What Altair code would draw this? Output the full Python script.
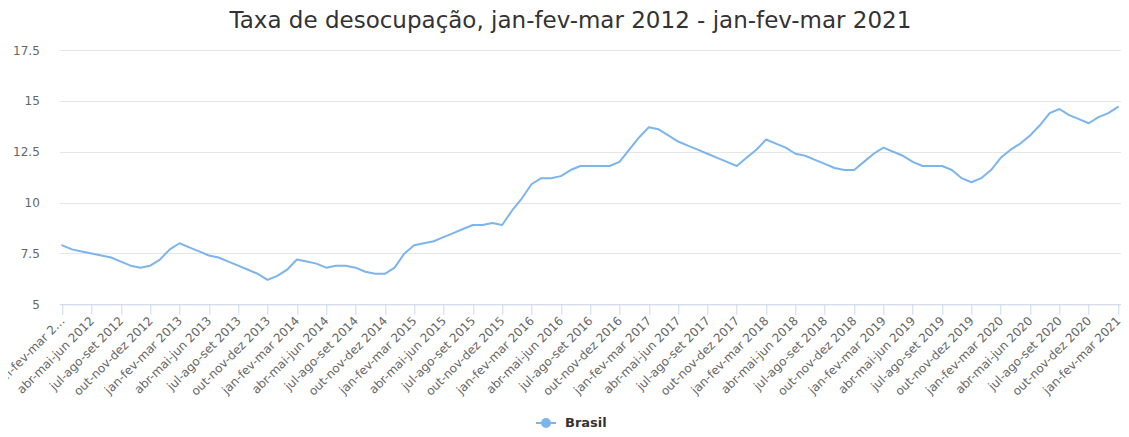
import altair as alt
import pandas as pd

trimestres = ["jan-fev-mar", "fev-mar-abr", "mar-abr-mai", "abr-mai-jun",
              "mai-jun-jul", "jun-jul-ago", "jul-ago-set", "ago-set-out",
              "set-out-nov", "out-nov-dez", "nov-dez-jan", "dez-jan-fev"]
anos = list(range(2012, 2022))

taxa = [7.9, 7.7, 7.6, 7.5, 7.4, 7.3, 7.1, 6.9, 6.8, 6.9, 7.2, 7.7,
        8.0, 7.8, 7.6, 7.4, 7.3, 7.1, 6.9, 6.7, 6.5, 6.2, 6.4, 6.7,
        7.2, 7.1, 7.0, 6.8, 6.9, 6.9, 6.8, 6.6, 6.5, 6.5, 6.8, 7.5,
        7.9, 8.0, 8.1, 8.3, 8.5, 8.7, 8.9, 8.9, 9.0, 8.9, 9.6, 10.2,
        10.9, 11.2, 11.2, 11.3, 11.6, 11.8, 11.8, 11.8, 11.8, 12.0, 12.6, 13.2,
        13.7, 13.6, 13.3, 13.0, 12.8, 12.6, 12.4, 12.2, 12.0, 11.8, 12.2, 12.6,
        13.1, 12.9, 12.7, 12.4, 12.3, 12.1, 11.9, 11.7, 11.6, 11.6, 12.0, 12.4,
        12.7, 12.5, 12.3, 12.0, 11.8, 11.8, 11.8, 11.6, 11.2, 11.0, 11.2, 11.6,
        12.2, 12.6, 12.9, 13.3, 13.8, 14.4, 14.6, 14.3, 14.1, 13.9, 14.2, 14.4,
        14.7]

categorias = []
for a in anos:
    for k, t in enumerate(trimestres):
        ano = a if k < 10 else a + 1
        categorias.append(f"{t} {ano}")
categorias = categorias[:len(taxa)]

y_ticks = [5, 7.5, 10, 12.5, 15, 17.5]
x_ticks = categorias[::3]

df = pd.DataFrame({"periodo": categorias, "taxa": taxa, "serie": "Brasil"})

FONT = "DejaVu Sans"
sym = "M-1,0L1,0M-0.4,0A0.4,0.4,0,1,1,0.4,0A0.4,0.4,0,1,1,-0.4,0Z"

chart = alt.Chart(df).mark_line(strokeWidth=2, strokeJoin="round", strokeCap="round").encode(
    x=alt.X("periodo:N", sort=categorias,
            scale=alt.Scale(type="point", padding=0.3),
            axis=alt.Axis(values=x_ticks, title=None, labelAngle=-45,
                          labelAlign="right", labelBaseline="middle",
                          labelFont=FONT, labelFontSize=12, labelColor="#666666",
                          labelPadding=4, tickSize=10, tickColor="#ccd6eb",
                          domainColor="#ccd6eb", grid=False, labelOverlap=False,
                          labelBound=False, labelFlush=False,
                          labelExpr="datum.value == 'jan-fev-mar 2012' ? 'jan-fev-mar 2…' : datum.label")),
    y=alt.Y("taxa:Q", scale=alt.Scale(domain=[5, 17.5], nice=False, zero=False),
            axis=alt.Axis(values=y_ticks, labelExpr="datum.value + ''", title=None,
                          ticks=False, domain=False, labelPadding=20, labelFont=FONT,
                          labelFontSize=12, labelColor="#666666",
                          gridColor="#e6e6e6", gridWidth=1)),
    color=alt.Color("serie:N", scale=alt.Scale(range=["#7cb5ec"]),
                    legend=alt.Legend(title=None, orient="none", legendX=475.7,
                                      legendY=362, symbolType=sym, symbolSize=400,
                                      symbolStrokeWidth=2, symbolFillColor="#7cb5ec",
                                      symbolStrokeColor="#7cb5ec",
                                      labelFont=FONT, labelFontSize=13,
                                      labelFontWeight="bold", labelColor="#333333",
                                      labelOffset=8, padding=0)),
).properties(
    width=1061.7, height=254.3,
    title=alt.TitleParams("Taxa de desocupação, jan-fev-mar 2012 - jan-fev-mar 2021",
                          font=FONT, fontSize=23, fontWeight="normal",
                          color="#333333", anchor="middle", dx=-19.7,
                          baseline="alphabetic", offset=16, dy=22.5),
    autosize=alt.AutoSizeParams(type="none"),
    padding={"left": 51.3, "top": 42, "right": 0, "bottom": 124.7},
).configure_view(stroke=None)

chart.save("out.html", embed_options={"renderer": "svg", "actions": False})
